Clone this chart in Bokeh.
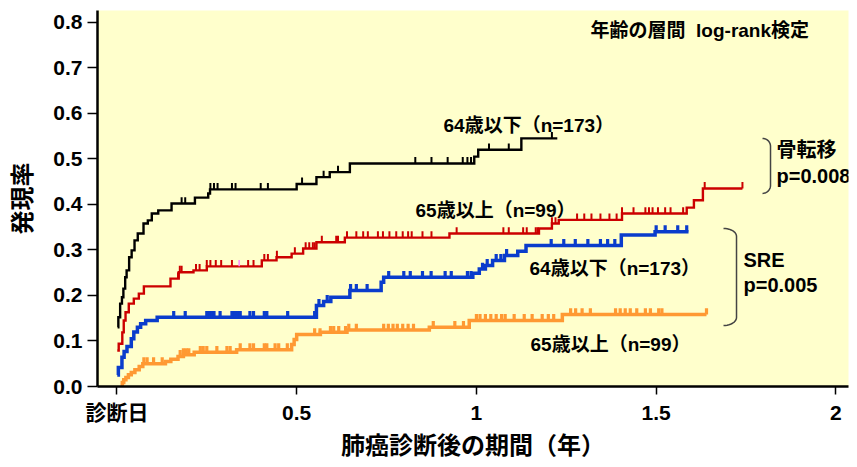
import numpy as np
from bokeh.plotting import figure
from bokeh.models import FixedTicker, Range1d, Label, PrintfTickFormatter
from bokeh.embed import file_html
from bokeh.resources import INLINE

# ---------------- data ----------------
xtick_vals = [0, 0.5, 1, 1.5, 2]
xtick_labels = ["診断日", "0.5", "1", "1.5", "2"]
ytick_vals = [0.0, 0.1, 0.2, 0.3, 0.4, 0.5, 0.6, 0.7, 0.8]

# 骨転移, 64歳以下 (n=173)
black_t = [0.002, 0.004, 0.009, 0.014, 0.018, 0.023, 0.027, 0.034, 0.041, 0.049, 0.058, 0.074,
           0.086, 0.097, 0.115, 0.152, 0.217, 0.254, 0.259, 0.500, 0.555, 0.592, 0.648, 0.994,
           1.005, 1.125, 1.225]
black_y = [0.130, 0.152, 0.182, 0.196, 0.215, 0.240, 0.255, 0.284, 0.299, 0.321, 0.336, 0.358,
           0.365, 0.380, 0.387, 0.402, 0.415, 0.424, 0.433, 0.445, 0.460, 0.471, 0.490, 0.505,
           0.520, 0.545, 0.545]
black_c = [0.18, 0.19, 0.26, 0.27, 0.28, 0.32, 0.33, 0.40, 0.42, 0.515, 0.575, 0.615, 0.83,
           0.875, 0.92, 0.962, 0.975, 0.985, 1.035, 1.09, 1.21]

# 骨転移, 65歳以上 (n=99)
red_t = [0.001, 0.005, 0.015, 0.019, 0.024, 0.033, 0.047, 0.061, 0.075, 0.149, 0.172, 0.213,
         0.250, 0.403, 0.444, 0.486, 0.518, 0.555, 0.634, 0.925, 1.174, 1.210, 1.229, 1.405,
         1.585, 1.605, 1.630, 1.740]
red_y = [0.079, 0.094, 0.119, 0.145, 0.163, 0.182, 0.193, 0.204, 0.220, 0.237, 0.251, 0.255,
         0.264, 0.277, 0.284, 0.292, 0.303, 0.317, 0.327, 0.336, 0.347, 0.358, 0.366, 0.380,
         0.393, 0.409, 0.435, 0.435]
red_c = [0.17, 0.175, 0.18, 0.22, 0.23, 0.25, 0.26, 0.275, 0.29, 0.32, 0.365, 0.38, 0.41, 0.42,
         0.445, 0.495, 0.525, 0.535, 0.545, 0.55, 0.57, 0.61, 0.615, 0.64, 0.666, 0.685, 0.698,
         0.726, 0.74, 0.758, 0.777, 0.795, 0.81, 0.82, 0.85, 0.875, 0.945, 1.075, 1.09, 1.13,
         1.14, 1.165, 1.17, 1.21, 1.22, 1.28, 1.30, 1.32, 1.345, 1.37, 1.39, 1.405, 1.437, 1.47,
         1.48, 1.49, 1.505, 1.525, 1.54, 1.575, 1.635, 1.74]
red_pink_c = [0.34]

# SRE, 64歳以下 (n=173)
blue_t = [0.001, 0.004, 0.014, 0.020, 0.028, 0.040, 0.047, 0.057, 0.066, 0.080, 0.112, 0.555,
          0.575, 0.595, 0.648, 0.735, 0.742, 0.990, 1.008, 1.025, 1.045, 1.078, 1.115, 1.138,
          1.403, 1.497, 1.590]
blue_y = [0.025, 0.042, 0.064, 0.077, 0.088, 0.105, 0.120, 0.130, 0.138, 0.145, 0.152, 0.178,
          0.187, 0.196, 0.211, 0.229, 0.240, 0.249, 0.258, 0.266, 0.277, 0.288, 0.297, 0.310,
          0.333, 0.340, 0.340]
blue_c = [0.158, 0.19, 0.25, 0.255, 0.26, 0.265, 0.27, 0.287, 0.32, 0.325, 0.33, 0.337, 0.343,
          0.37, 0.38, 0.41, 0.417, 0.475, 0.55, 0.562, 0.585, 0.65, 0.666, 0.696, 0.756, 0.798,
          0.816, 0.85, 0.874, 0.913, 0.93, 0.975, 0.985, 1.017, 1.03, 1.055, 1.068, 1.084,
          1.208, 1.243, 1.275, 1.31, 1.345, 1.365, 1.385, 1.5, 1.525, 1.56, 1.585]

# SRE, 65歳以上 (n=99)
orange_t = [0.010, 0.015, 0.019, 0.025, 0.032, 0.040, 0.050, 0.062, 0.072, 0.135, 0.150, 0.170,
            0.185, 0.215, 0.333, 0.486, 0.493, 0.500, 0.566, 0.640, 0.869, 0.980, 1.239, 1.640]
orange_y = [0.004, 0.009, 0.015, 0.020, 0.026, 0.031, 0.037, 0.044, 0.050, 0.055, 0.060, 0.066,
            0.070, 0.075, 0.081, 0.092, 0.103, 0.114, 0.119, 0.124, 0.130, 0.145, 0.158, 0.158]
orange_c = [0.075, 0.084, 0.102, 0.126, 0.176, 0.185, 0.193, 0.2, 0.232, 0.24, 0.25, 0.278,
            0.306, 0.315, 0.343, 0.37, 0.38, 0.41, 0.417, 0.44, 0.45, 0.474, 0.55, 0.565, 0.594,
            0.603, 0.617, 0.636, 0.645, 0.666, 0.742, 0.755, 0.768, 0.78, 0.795, 0.81, 0.825,
            0.88, 0.94, 0.964, 1.0, 1.01, 1.025, 1.04, 1.055, 1.07, 1.08, 1.105, 1.133, 1.155,
            1.183, 1.2, 1.215, 1.262, 1.276, 1.294, 1.317, 1.387, 1.40, 1.414, 1.428, 1.446,
            1.47, 1.484, 1.507, 1.516, 1.64]

# ---------------- styling ----------------
FONT = "Liberation Sans, Noto Sans CJK JP"
BG = "#ffffcc"
C_BLACK, C_RED, C_BLUE, C_ORANGE = "#000000", "#cc0000", "#0a3ccc", "#ff9933"
TICK_H = 0.014  # height of censor ticks (data units)

p = figure(width=853, height=462, output_backend="svg", toolbar_location=None,
           x_range=Range1d(-0.054, 2.035), y_range=Range1d(0.0, 0.826),
           min_border_left=97, min_border_right=5, min_border_top=10, min_border_bottom=76)
p.background_fill_color = BG
p.border_fill_color = "white"
p.outline_line_color = None
p.grid.visible = False

for ax in (p.xaxis[0], p.yaxis[0]):
    ax.axis_line_width = 2.5
    ax.axis_line_color = "black"
    ax.major_tick_line_width = 1.5
    ax.major_tick_line_color = "black"
    ax.major_tick_in = 0
    ax.minor_tick_line_color = None
    ax.major_label_text_font = FONT
    ax.major_label_text_font_style = "bold"
    ax.major_label_text_font_size = "21px"
    ax.major_label_text_color = "black"
    ax.axis_label_text_font = FONT
    ax.axis_label_text_font_style = "bold"
    ax.axis_label_text_font_size = "24px"
    ax.axis_label_text_color = "black"

p.xaxis.ticker = FixedTicker(ticks=xtick_vals)
p.xaxis.major_label_overrides = {v: s for v, s in zip(xtick_vals, xtick_labels)}
p.xaxis.major_tick_out = 8
p.xaxis.major_label_standoff = 6
p.xaxis.axis_label = "肺癌診断後の期間（年）"
p.xaxis.axis_label_standoff = 5

p.yaxis.ticker = FixedTicker(ticks=ytick_vals)
p.yaxis.formatter = PrintfTickFormatter(format="%.1f")
p.yaxis.major_tick_out = 10
p.yaxis.major_label_standoff = 5
p.yaxis.axis_label = "発現率"
p.yaxis.axis_label_standoff = 14


def values_at(ts, ys, cs):
    idx = np.searchsorted(np.array(ts), np.array(cs), side="right") - 1
    idx = np.clip(idx, 0, len(ys) - 1)
    return np.array(ys)[idx]


def draw_curve(ts, ys, cs, color, lw, tick_w):
    p.step(ts, ys, mode="after", line_color=color, line_width=lw, line_join="miter")
    yc = values_at(ts, ys, cs)
    p.segment(x0=cs, y0=yc, x1=cs, y1=yc + TICK_H, line_color=color, line_width=tick_w)


draw_curve(orange_t, orange_y, orange_c, C_ORANGE, 3.5, 3.2)
draw_curve(blue_t, blue_y, blue_c, C_BLUE, 3.5, 3.2)
draw_curve(red_t, red_y, red_c, C_RED, 2.4, 2.0)
yp = values_at(red_t, red_y, red_pink_c)
p.segment(x0=red_pink_c, y0=yp, x1=red_pink_c, y1=yp + TICK_H, line_color="#ff88ff", line_width=1.5)
draw_curve(black_t, black_y, black_c, C_BLACK, 2.4, 2.0)


# ---------------- annotations ----------------
def px2x(px):
    return (px - 116.4) / 359.5


def py2y(py):
    return (386 - py) / 455.0


def label(text, px, py, size, align="left"):
    p.add_layout(Label(x=px2x(px), y=py2y(py), text=text, text_font=FONT,
                       text_font_style="bold", text_font_size=size, text_color="black",
                       text_align=align, text_baseline="middle"))


label("年齢の層間\u00a0\u00a0log-rank検定", 590, 30, "19px")
label("64歳以下（n=173）", 443, 125, "19px")
label("65歳以上（n=99）", 415, 210, "19px")
label("64歳以下（n=173）", 529, 268, "19px")
label("65歳以上（n=99）", 530, 344, "19px")
label("骨転移", 776, 150, "20px")
label("p=0.008", 776, 176, "20px")
label("SRE", 743, 260, "20px")
label("p=0.005", 743, 285, "20px")


def bracket(pxl, pxr, pyt, pyb):
    t = np.linspace(0, np.pi / 2, 12)
    r = 8.0
    xs_top = pxl + (pxr - pxl) * np.sin(t)
    ys_top = pyt + r * (1 - np.cos(t))
    xs_bot = pxl + (pxr - pxl) * np.sin(t[::-1])
    ys_bot = pyb - r * (1 - np.cos(t[::-1]))
    xs = np.concatenate([xs_top, xs_bot])
    ys = np.concatenate([ys_top, ys_bot])
    p.line(px2x(xs), py2y(ys), line_color="#444444", line_width=1.5)


bracket(762, 770, 138, 193)
bracket(723, 736, 228, 325)

open("out.html", "w").write(file_html(p, INLINE))
